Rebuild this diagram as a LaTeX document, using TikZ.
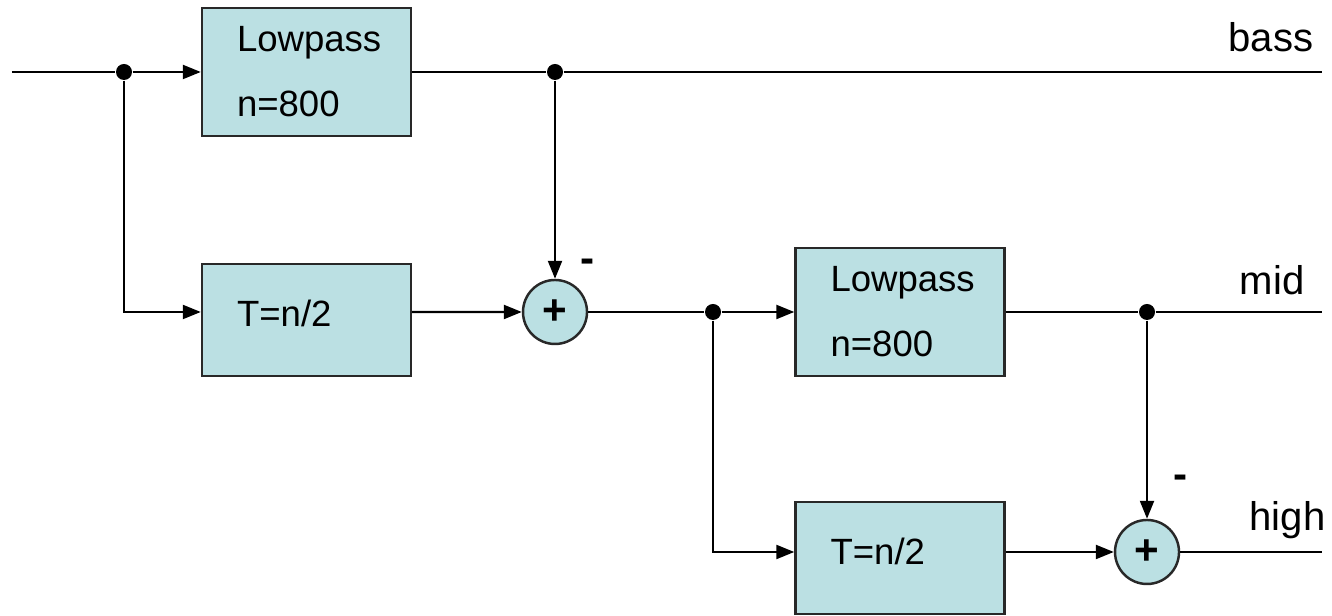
\documentclass[tikz,border=0pt]{standalone}
\usepackage{fontspec}
\setmainfont{Liberation Sans}
\usetikzlibrary{arrows.meta}
\definecolor{boxcyan}{RGB}{187,224,227}
\definecolor{edgegray}{RGB}{40,40,40}

\tikzset{
  sig/.style={line width=0.65pt},
  arr/.style={sig, -{Triangle[length=0.18cm,width=0.14cm]}},
  filterbox/.style={draw=edgegray, line width=0.7pt, fill=boxcyan, minimum width=2.09cm,
    text width=1.39cm, inner xsep=0.35cm, align=left,
    font=\fontsize{10.4}{18.5}\selectfont},
  sumnode/.style={circle, draw=edgegray, line width=0.7pt, fill=boxcyan, minimum size=0.64cm,
    inner sep=0pt, font=\fontsize{12}{14}\selectfont\bfseries},
  junction/.style={circle, fill=black, minimum size=0.16cm, inner sep=0pt},
  outlabel/.style={anchor=base east, inner sep=0pt, font=\fontsize{11.4}{13}\selectfont}
}

\begin{document}
\begin{tikzpicture}

% Background
\useasboundingbox (0,0) rectangle (13.32,6.16);

% Filter blocks
\node[filterbox, minimum height=1.28cm] (lp1) at (3.065,5.44) {Lowpass\\n=800};
\node[filterbox, minimum height=1.12cm, text depth=0.14cm] (del1) at (3.065,2.96) {T=n/2};
\node[filterbox, minimum height=1.28cm] (lp2) at (9.0,3.04) {Lowpass\\n=800};
\node[filterbox, minimum height=1.12cm, text depth=0.14cm] (del2) at (9.0,0.58) {T=n/2};

% Adders
\node[sumnode] (sum1) at (5.55,3.04) {+};
\node[sumnode] (sum2) at (11.47,0.64) {+};

% Junction dots
\node[junction] (j1) at (1.24,5.44) {};
\node[junction] (j2) at (5.55,5.44) {};
\node[junction] (j3) at (7.13,3.04) {};
\node[junction] (j4) at (11.47,3.04) {};

% Line ends
\coordinate (in) at (0.12,5.44);
\coordinate (bassend) at (13.22,5.44);
\coordinate (midend) at (13.22,3.04);
\coordinate (highend) at (13.22,0.64);

% Signal paths
\draw[sig] (in) -- (j1);
\draw[arr] (j1) -- (lp1);
\draw[arr] (j1) |- ([yshift=0.08cm]del1.west);
\draw[sig] (lp1) -- (j2) -- (bassend);
\draw[arr] (j2) -- (sum1);
\draw[arr] ([yshift=0.08cm]del1.east) -- (sum1);
\draw[sig] (sum1) -- (j3);
\draw[arr] (j3) -- (lp2);
\draw[arr] (j3) |- ([yshift=0.06cm]del2.west);
\draw[sig] (lp2) -- (j4) -- (midend);
\draw[arr] (j4) -- (sum2);
\draw[arr] ([yshift=0.06cm]del2.east) -- (sum2);
\draw[sig] (sum2) -- (highend);

% Labels
\node[outlabel] (bass) at (13.14,5.64) {bass};
\node[outlabel] (mid) at (13.05,3.21) {mid};
\node[outlabel] (high) at (13.26,0.85) {high};
\node[outlabel, anchor=base, font=\fontsize{12}{14}\selectfont\bfseries] (minus1) at (5.88,3.43) {-};
\node[outlabel, anchor=base, font=\fontsize{12}{14}\selectfont\bfseries] (minus2) at (11.80,1.27) {-};

\end{tikzpicture}
\end{document}
